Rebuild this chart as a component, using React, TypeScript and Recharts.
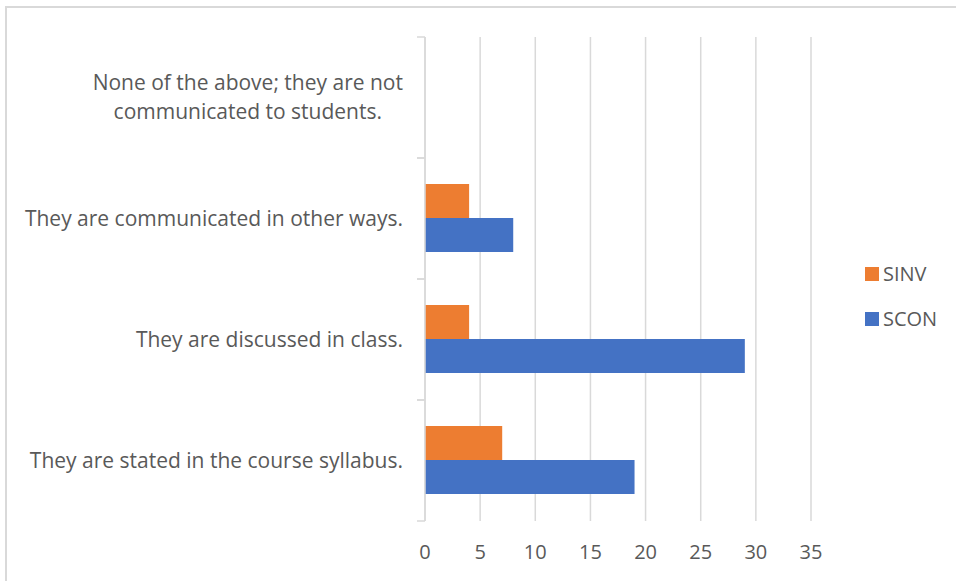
import { Bar, BarChart, CartesianGrid, XAxis, YAxis } from "recharts"

const categories = [
  "None of the above; they are not\ncommunicated to students.",
  "They are communicated in other ways.",
  "They are discussed in class.",
  "They are stated in the course syllabus.",
]
const sinv = [0, 4, 4, 7]
const scon = [0, 8, 29, 19]
const xTicks = [0, 5, 10, 15, 20, 25, 30, 35]
const series = [
  { key: "SINV", color: "#ED7D31" },
  { key: "SCON", color: "#4472C4" },
]

const data = categories.map((name, i) => ({ name, SINV: sinv[i], SCON: scon[i] }))

const FONT_NAME = "Open Sans"
const FONT = "'Open Sans', 'DejaVu Sans', sans-serif"
const TEXT = "#595959"
const GRID = "#d9d9d9"
const W = 956
const H = 581
const margin = { top: 37, right: 145, bottom: 0, left: 0 }
const xAxisHeight = 60
const band = (H - margin.top - margin.bottom - xAxisHeight) / categories.length

let ctx: CanvasRenderingContext2D | null = null
function measure(text: string, size: number) {
  if (!ctx) ctx = document.createElement("canvas").getContext("2d")
  if (!ctx) return text.length * size * 0.5
  ctx.font = `${size}px '${FONT_NAME}'`
  return ctx.measureText(text).width
}

function CategoryTick(props: any) {
  const { x, y, payload } = props
  const size = 21
  const lines: string[] = String(payload.value).split("\n")
  const lineHeight = 29
  const right = x - 22
  const widest = Math.max(...lines.map((l) => measure(l, size)))
  const multi = lines.length > 1
  const tx = multi ? right - widest / 2 : right
  return (
    <g>
      <line x1={x - 8} x2={x} y1={y - band / 2} y2={y - band / 2} stroke={GRID} strokeWidth={1.5} />
      <line x1={x - 8} x2={x} y1={y + band / 2} y2={y + band / 2} stroke={GRID} strokeWidth={1.5} />
      <text x={tx} y={y} textAnchor={multi ? "middle" : "end"} fill={TEXT} fontSize={size} fontFamily={FONT}>
        {lines.map((l, i) => (
          <tspan key={i} x={tx} y={y + (i - (lines.length - 1) / 2) * lineHeight} dy="0.35em">
            {l}
          </tspan>
        ))}
      </text>
    </g>
  )
}

export default function App() {
  return (
    <div style={{ position: "absolute", left: 0, top: 0, width: W, height: H, background: "#fff", overflow: "hidden" }}>
      <div
        style={{
          position: "absolute",
          left: 5,
          top: 6,
          width: W + 20,
          height: H + 20,
          borderTop: `2px solid ${GRID}`,
          borderLeft: `2px solid ${GRID}`,
        }}
      />
      <div style={{ position: "absolute", left: 0, top: 0 }}>
        <BarChart
          width={W}
          height={H}
          data={data}
          layout="vertical"
          margin={margin}
          barCategoryGap="21.5%"
          barGap={0}
        >
          <CartesianGrid horizontal={false} stroke={GRID} strokeWidth={1.5} />
          <XAxis
            type="number"
            domain={[0, 35]}
            ticks={xTicks}
            height={xAxisHeight}
            axisLine={false}
            tickLine={false}
            tickMargin={18}
            tick={{ fill: TEXT, fontSize: 20, fontFamily: FONT }}
          />
          <YAxis
            type="category"
            dataKey="name"
            width={425}
            axisLine={{ stroke: GRID, strokeWidth: 1.5 }}
            tickLine={false}
            tickSize={0}
            tickMargin={0}
            interval={0}
            tick={<CategoryTick />}
          />
          {series.map((s) => (
            <Bar key={s.key} dataKey={s.key} fill={s.color} isAnimationActive={false} />
          ))}
        </BarChart>
      </div>
      <div style={{ position: "absolute", left: 865, top: 251, fontFamily: FONT, fontSize: 20, color: TEXT }}>
        {series.map((s) => (
          <div key={s.key} style={{ display: "flex", alignItems: "center", height: 45 }}>
            <span style={{ width: 14, height: 14, background: s.color, marginRight: 4, display: "inline-block" }} />
            {s.key}
          </div>
        ))}
      </div>
    </div>
  )
}
